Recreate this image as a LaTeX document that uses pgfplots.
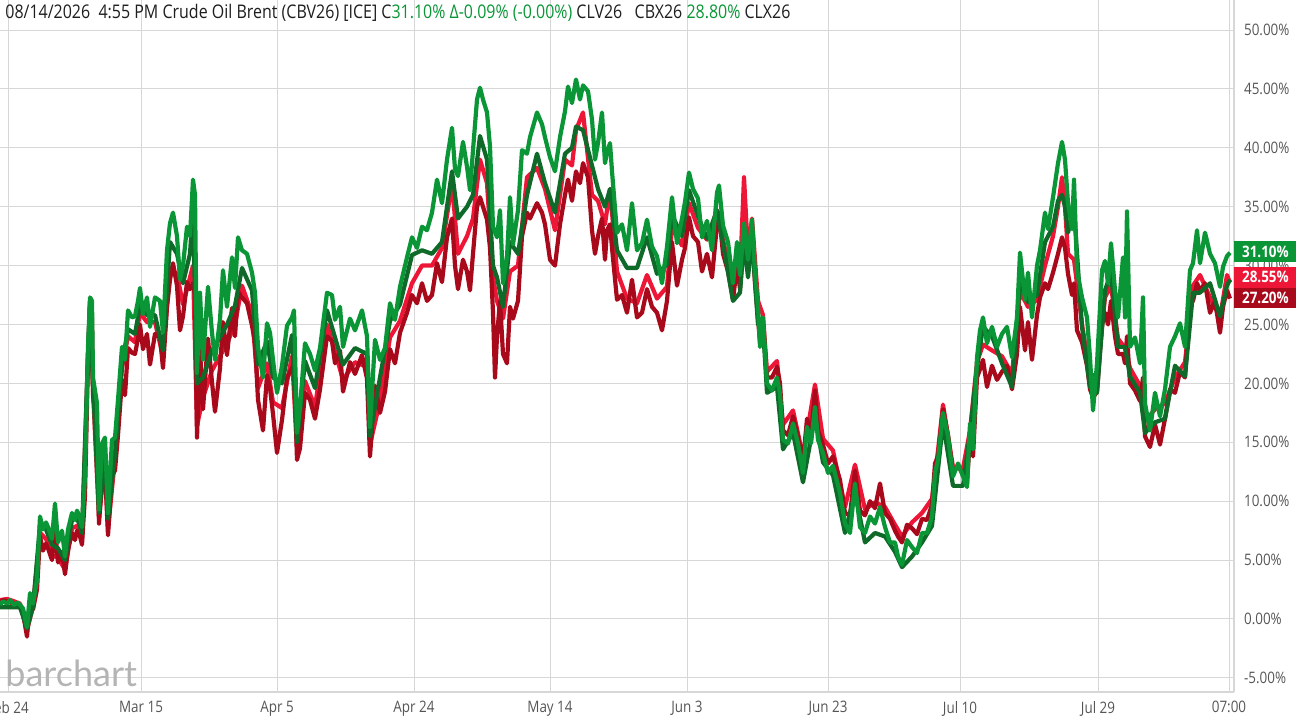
\documentclass[border=0pt]{standalone}
\usepackage{fontspec}
\usepackage{pgfplots}
\pgfplotsset{compat=1.18}
\newfontfamily\cond[FakeStretch=0.85]{Open Sans}
\newfontfamily\wmfont{Lato}
\definecolor{cG}{RGB}{10,150,55}
\definecolor{cDG}{RGB}{15,105,40}
\definecolor{cC}{RGB}{238,22,55}
\definecolor{cR}{RGB}{168,10,28}
\definecolor{gridc}{RGB}{215,215,215}
\definecolor{labc}{RGB}{85,85,85}
\definecolor{ttl}{RGB}{30,30,30}
\definecolor{wm}{RGB}{180,180,180}
\begin{document}
\begin{tikzpicture}
\begin{axis}[
  at={(0,0)}, anchor=south west,
  scale only axis, width=617pt, height=346pt,
  xmin=0, xmax=1234, ymin=-6.2, ymax=52.55,
  axis x line*=bottom, axis y line*=right,
  axis line style={draw=gridc, line width=0.6pt, -},
  xtick={8,141,277,414,550,687,828,960,1098,1229},
  xticklabels={Feb 24,Mar 15,Apr 5,Apr 24,May 14,Jun 3,Jun 23,Jul 10,Jul 29,07:00},
  ytick={-5,0,5,10,15,20,25,30,35,40,45,50},
  yticklabels={-5.00\%,0.00\%,5.00\%,10.00\%,15.00\%,20.00\%,25.00\%,30.00\%,35.00\%,40.00\%,45.00\%,50.00\%},
  yticklabel style={anchor=west, xshift=1.5pt},
  xticklabel style={anchor=north, yshift=-1pt},
  major tick length=0pt,
  grid=major, major grid style={draw=gridc, line width=0.5pt},
  tick label style={font=\cond\fontsize{7.9}{9}\selectfont, text=labc},
  /pgf/number format/assume math mode=true,
  clip mode=individual,
  every axis plot/.append style={line width=2.1pt, line join=round, no markers},
]
\node[anchor=base west, font=\wmfont\fontsize{18}{20}\selectfont, text=wm, inner sep=0pt] at ([xshift=2.5pt,yshift=2.5pt]rel axis cs:0,0) {barchart};

% CLV26 (crimson)
\addplot[draw=cC] coordinates {
(0,1.6)(7,1.7)(14,1.5)(20,1.3)(27,-1.0)(33,1.1)(40,7.3)(46,6.8)(52,5.4)(58,5.2)(65,4.2)(72,7.7)(77,7.9)(82,6.7)(88,22.4)(90,27.0)(93,19.4)(99,8.5)(105,13.6)(108,7.6)(115,13.6)(122,21.3)(128,24.0)(135,23.5)(140,26.0)(147,25.2)(155,25.2)(163,22.3)(170,29.8)(177,29.3)(183,26.7)(190,29.0)(193,30.0)(197,16.4)(203,18.8)(212,21.1)(220,22.3)(227,23.4)(235,25.0)(242,28.3)(252,25.9)(258,19.6)(267,21.7)(273,18.4)(282,17.9)(292,22.3)(297,14.5)(305,20.2)(315,18.0)(327,25.0)(335,22.7)(343,20.3)(355,21.8)(367,21.4)(370,14.8)(380,18.5)(390,23.9)(400,25.3)(412,28.5)(422,30.0)(432,30.0)(442,31.5)(452,37.0)(458,31.0)(467,32.5)(473,34.0)(480,39.0)(487,37.0)(493,29.0)(497,27.0)(503,25.5)(510,29.5)(518,30.0)(527,37.5)(537,38.3)(545,36.5)(555,33.0)(565,39.0)(572,38.5)(576,41.5)(583,43.0)(592,36.0)(598,35.5)(605,33.5)(610,36.5)(617,29.5)(627,27.2)(637,26.8)(647,29.2)(657,27.2)(667,28.2)(672,33.2)(682,31.7)(689,35.3)(698,33.2)(707,32.2)(717,34.7)(723,32.2)(733,28.3)(740,29.2)(744,37.5)(748,31.0)(752,34.0)(758,27.0)(763,25.8)(767,21.0)(777,21.9)(783,16.5)(793,17.7)(803,13.8)(815,19.9)(823,15.3)(833,14.3)(845,9.5)(855,13.1)(865,9.3)(875,9.9)(885,9.5)(895,8.0)(902,7.0)(912,8.2)(922,9.0)(932,10.2)(938,14.3)(943,18.2)(953,12.9)(963,12.8)(970,16.0)(977,21.8)(983,23.3)(992,22.8)(1002,22.3)(1012,20.8)(1020,27.8)(1028,26.5)(1037,27.1)(1045,30.0)(1053,32.5)(1058,35.0)(1062,37.5)(1065,35.0)(1068,31.0)(1074,30.5)(1082,25.0)(1090,20.8)(1097,20.6)(1105,27.3)(1111,28.3)(1118,23.8)(1125,23.0)(1130,21.3)(1140,19.8)(1145,16.8)(1155,17.8)(1165,18.3)(1175,20.5)(1185,21.8)(1193,28.3)(1200,29.2)(1210,27.3)(1220,25.6)(1227,29.2)(1230,28.55)
};

% CLX26 (dark red)
\addplot[draw=cR] coordinates {
(0,1.4)(3,1.6)(7,1.5)(10,1.4)(14,1.3)(17,1.2)(20,1.0)(23,0.5)(27,-1.5)(30,1.5)(33,0.8)(37,2.5)
(40,7.0)(43,5.8)(46,6.4)(48,6.0)(52,5.0)(55,7.8)(58,4.8)(62,5.7)(65,3.8)(68,5.9)(72,7.3)(75,6.7)(77,7.5)(80,7.0)(82,6.3)(85,10.5)
(88,22.0)(90,26.8)(92,25.5)(93,19.0)(97,16.0)(99,8.1)
(102,11.9)(105,12.6)(108,7.1)(112,12.2)(115,12.6)(118,15.6)(122,20.3)(125,19.0)(128,23.0)(132,22.6)(135,22.5)(138,23.8)(140,25.0)(143,22.9)(147,24.2)(150,21.6)(155,24.2)(160,23.9)(163,21.3)
(167,26.5)(170,28.8)(173,30.2)(177,28.3)(180,24.5)(183,25.7)(187,28.6)(190,28.0)(193,28.5)(195,27.5)(197,15.4)(200,22.9)
(203,17.8)(208,23.8)(212,20.1)(215,17.6)(220,21.3)(223,25.2)(227,22.4)(232,26.4)(235,24.0)(238,27.8)(242,27.3)(247,26.8)(252,24.9)(255,23.5)(258,18.6)(263,16.0)(267,20.7)(270,19.6)(273,17.4)(277,14.1)(282,16.9)(287,20.5)(292,21.3)(294,21.7)(297,13.5)(300,14.5)
(305,19.2)(310,18.6)(315,17.0)(320,19.5)(327,24.0)(332,23.6)(335,21.7)(340,22.8)(343,19.3)(350,21.8)(355,20.8)(362,22.4)(367,20.4)(370,13.8)(375,19.8)(380,17.5)(385,19.3)(390,22.9)(395,21.7)(400,24.3)(407,26.0)(412,27.5)(417,26.8)(422,28.5)
(427,27.0)(432,27.5)(437,30.2)(442,28.6)(447,32.4)(452,34.0)(455,30.0)(458,28.0)(463,30.5)(467,29.5)(470,27.9)(473,31.0)(477,35.0)(480,35.8)(483,35.0)(487,33.9)(490,31.5)(493,26.0)(495,20.5)(497,24.0)(500,27.0)(503,22.5)(507,21.7)(510,26.5)(513,25.5)(518,27.0)
(522,32.5)(527,34.5)(530,34.0)(537,35.3)(542,34.5)(545,33.5)(550,30.5)(555,30.0)(560,33.5)(565,36.0)(568,37.3)(572,35.5)(576,38.0)(580,37.0)(583,38.7)(588,37.5)(592,33.0)(595,31.0)(598,32.5)(602,34.0)(605,30.5)(607,33.0)(610,33.5)(612,31.5)(617,27.1)
(622,27.5)(627,26.0)(632,28.8)(637,25.6)(642,26.0)(647,28.0)(652,26.5)(657,26.0)(662,24.5)(667,27.0)(672,32.0)(677,28.3)(682,30.5)(685,31.5)(689,34.1)(693,32.5)(698,32.0)
(702,29.5)(707,31.0)(712,29.0)(717,33.5)(719,34.5)(723,31.0)(728,29.5)(733,27.1)(737,30.0)(740,28.0)(744,32.5)(748,29.5)(752,32.5)(755,28.5)(758,25.5)(760,23.5)(763,25.0)
(767,20.5)(772,20.5)(777,21.4)(780,20.0)(783,16.0)(788,15.6)(793,17.2)(798,15.5)(803,13.3)(807,17.0)(811,15.6)(815,19.4)(818,16.0)(823,14.8)(828,13.2)
(833,13.8)(840,11.8)(845,9.0)(850,8.8)(855,12.6)(860,9.2)(865,8.8)(870,10.0)(875,9.4)(880,11.5)(885,9.0)(890,8.5)(895,7.5)(898,7.0)(902,6.5)(907,8.0)(912,7.7)(917,7.2)(922,8.5)(927,8.4)(932,9.7)(935,13.2)(938,13.8)(943,17.8)(948,15.6)
(953,12.4)(958,13.0)(963,12.3)(967,11.5)(970,15.5)(973,13.8)
(977,20.5)(980,21.2)(983,22.0)(987,19.7)(992,21.5)(997,20.3)(1002,21.0)(1007,21.5)(1012,19.5)(1017,22.5)(1020,26.5)(1025,22.8)(1028,25.2)(1032,22.0)(1037,25.8)(1040,27.3)
(1045,28.5)(1048,28.0)(1053,29.4)(1058,31.0)(1062,32.4)(1065,31.5)(1068,29.3)(1072,27.5)(1074,28.5)(1077,24.5)(1082,23.5)(1087,21.5)
(1090,19.5)(1093,18.8)(1097,19.3)(1102,25.0)(1105,26.0)(1108,25.0)(1111,27.0)(1115,24.0)(1118,22.5)(1123,22.5)(1125,21.7)(1127,24.0)(1130,20.0)
(1135,19.4)(1140,18.5)(1143,20.5)(1145,15.5)(1150,14.6)(1155,16.5)(1160,14.8)(1165,17.0)(1170,19.5)
(1175,19.2)(1180,21.0)(1185,20.5)(1190,26.8)(1193,27.0)(1197,28.5)(1200,27.9)(1205,28.5)(1210,26.0)(1215,27.0)(1220,24.3)(1223,26.5)(1227,27.9)(1230,27.2)
};

% CBX26 (dark green)
\addplot[draw=cDG] coordinates {
(0,1.0)(7,1.0)(14,1.0)(20,1.0)(27,-0.8)(33,1.0)(40,8.0)(46,7.6)(52,6.3)(58,6.0)(65,5.0)(72,8.4)(77,8.6)(82,7.3)(88,22.5)(90,26.5)(93,20.0)(99,9.0)(105,14.0)(108,8.5)(115,14.0)(122,21.6)(128,24.6)(135,24.2)(140,26.6)(147,25.8)(155,25.8)(163,22.8)(170,32.0)(177,31.0)(183,28.5)(190,31.0)(193,35.0)(197,20.0)(203,20.5)(212,22.8)(220,23.9)(227,25.0)(235,26.6)(242,29.8)(252,27.9)(258,21.6)(267,23.6)(273,20.5)(282,20.0)(292,24.1)(297,15.0)(305,21.9)(315,19.6)(327,26.2)(335,23.9)(343,21.6)(355,23.0)(367,22.5)(370,15.5)(380,20.5)(390,25.3)(400,26.7)(412,30.9)(422,31.3)(432,31.0)(442,32.0)(452,38.0)(458,34.0)(467,35.0)(473,36.0)(480,41.0)(487,39.0)(493,30.0)(497,29.0)(503,26.5)(510,32.0)(518,31.0)(527,36.0)(537,39.5)(545,37.0)(555,34.5)(565,39.5)(572,40.0)(576,41.8)(583,41.5)(592,38.5)(598,36.5)(605,35.0)(610,36.5)(617,31.3)(627,29.8)(637,29.8)(647,32.4)(657,29.3)(667,30.1)(672,34.3)(682,32.5)(689,36.4)(698,34.2)(707,32.3)(717,34.7)(723,31.9)(733,27.0)(740,27.7)(744,32.1)(748,29.0)(752,32.4)(758,25.0)(763,24.8)(767,19.2)(777,19.7)(783,14.4)(793,15.8)(803,11.6)(815,17.2)(823,13.3)(833,12.2)(845,7.3)(855,10.7)(865,6.5)(875,7.3)(885,7.0)(895,5.7)(902,4.4)(912,5.3)(922,6.5)(932,7.9)(938,12.7)(943,16.7)(953,11.3)(963,11.3)(970,15.8)(977,21.4)(983,24.8)(992,24.0)(1002,21.7)(1012,19.7)(1020,28.6)(1028,26.9)(1037,27.5)(1045,32.0)(1053,33.3)(1058,35.5)(1062,36.0)(1065,35.0)(1068,32.8)(1074,34.8)(1082,24.8)(1090,19.7)(1097,19.2)(1105,27.9)(1111,29.4)(1118,23.1)(1125,23.1)(1130,20.6)(1140,19.2)(1145,15.8)(1155,16.7)(1165,17.0)(1175,21.5)(1185,20.6)(1193,27.7)(1200,27.7)(1210,28.5)(1220,25.7)(1227,28.3)(1230,28.8)
};

% CBV26 (green)
\addplot[draw=cG] coordinates {
(0,1.2)(3,1.5)(7,1.3)(10,1.6)(14,1.2)(17,1.4)(20,1.2)(23,0.9)(27,-0.7)(30,2.2)(33,1.3)(37,3.3)(40,8.7)(43,7.6)(46,8.2)(48,7.8)(52,6.8)(55,9.8)(58,6.5)(62,7.5)(65,5.3)(68,7.6)(72,9.0)(75,8.4)(77,9.2)(80,8.6)(82,7.8)(85,12.1)(88,23.1)(90,27.3)(92,27.0)(93,20.5)(97,18.3)(99,9.3)
(102,14.9)(105,15.4)(108,9.0)(112,15.2)(115,15.4)(118,18.6)(122,23.1)(125,22.0)(128,26.2)(132,25.6)(135,25.7)(138,27.0)(140,28.1)(143,25.9)(147,27.3)(150,24.8)(155,27.3)(160,27.0)(163,24.3)(167,31.3)(170,33.6)(173,34.5)(177,32.5)(180,28.8)(183,30.0)(187,33.3)(190,32.5)(193,37.3)(195,36.0)(197,20.9)(200,27.7)
(203,22.0)(208,28.2)(212,24.3)(215,22.0)(220,25.4)(223,29.6)(227,26.5)(232,30.7)(235,28.1)(238,32.4)(242,31.3)(247,31.0)(252,29.4)(255,27.7)(258,23.1)(263,20.5)(267,25.1)(270,24.3)(273,22.0)(277,19.2)(282,21.5)(287,24.9)(292,25.6)(294,26.2)(297,15.8)(300,18.0)
(305,23.4)(310,22.5)(315,21.1)(320,23.0)(327,27.7)(332,27.5)(335,25.4)(340,26.5)(343,23.1)(350,25.5)(355,24.5)(362,26.2)(367,24.0)(370,16.3)(375,23.7)(380,22.0)(385,23.0)(390,26.8)(395,25.4)(400,28.2)(407,30.7)(412,32.4)(417,31.5)(422,33.3)
(427,33.0)(432,34.5)(437,37.3)(442,35.3)(447,39.0)(452,41.7)(455,38.2)(458,37.6)(463,40.5)(467,38.4)(470,36.4)(473,39.8)(477,44.1)(480,45.1)(483,44.1)(487,43.0)(490,40.1)(493,33.3)(497,32.4)(500,34.7)(503,28.5)(507,30.7)(510,35.8)(513,31.8)(518,34.7)
(522,39.8)(527,39.5)(530,40.9)(537,43.0)(542,42.0)(545,40.9)(550,39.2)(555,38.0)(560,40.9)(565,43.1)(568,45.2)(572,43.8)(576,45.8)(580,44.1)(583,45.3)(588,44.8)(592,42.4)(595,39.0)(598,40.4)(602,43.0)(605,38.7)(607,39.6)(610,40.4)(612,38.0)(617,32.8)
(622,33.5)(627,31.3)(632,35.3)(637,31.3)(642,31.9)(647,33.9)(652,31.6)(657,30.8)(662,28.5)(667,31.6)(672,35.8)(677,31.9)(682,34.0)(685,35.4)(689,37.9)(693,36.5)(698,35.7)
(702,32.4)(707,33.8)(712,31.3)(717,36.2)(719,36.8)(723,33.4)(728,32.0)(733,28.5)(737,32.0)(740,29.2)(744,33.6)(748,30.5)(752,33.9)(755,29.4)(758,26.5)(760,23.1)(763,25.6)
(767,20.0)(772,19.4)(777,20.5)(780,19.1)(783,15.2)(788,14.9)(793,16.6)(798,14.9)(803,12.4)(807,16.3)(811,14.9)(815,18.0)(818,15.2)(823,14.1)(828,12.4)
(833,13.0)(840,10.7)(845,8.1)(850,7.3)(855,11.5)(860,7.8)(865,7.3)(870,8.7)(875,8.1)(880,9.5)(885,7.8)(890,6.5)(895,6.5)(898,5.3)(902,4.6)(907,6.7)(912,6.1)(917,5.6)(922,7.3)(927,7.3)(932,8.7)(935,12.4)(938,13.5)(943,17.5)(948,15.5)
(953,12.1)(958,13.2)(963,12.1)(967,11.2)(970,16.6)(973,14.4)
(977,22.2)(980,24.5)(983,25.6)(987,23.4)(992,24.8)(997,23.1)(1002,24.2)(1007,24.8)(1012,22.2)(1017,25.6)(1020,31.1)(1025,27.1)(1028,29.4)(1032,25.6)(1037,30.0)(1040,31.3)
(1045,34.5)(1048,33.1)(1053,35.8)(1058,38.7)(1062,40.5)(1065,39.0)(1068,35.3)(1072,33.1)(1074,37.3)(1077,29.6)(1082,27.3)(1087,25.6)
(1090,22.2)(1093,17.7)(1097,21.7)(1102,29.6)(1105,30.4)(1108,28.5)(1111,31.9)(1115,27.9)(1118,25.6)(1123,30.7)(1125,25.6)(1127,34.6)(1130,23.1)
(1135,23.9)(1140,21.7)(1143,27.3)(1145,18.3)(1150,16.0)(1155,19.2)(1160,17.2)(1165,19.5)(1170,23.1)
(1175,24.0)(1180,25.1)(1185,23.1)(1190,29.6)(1193,30.2)(1197,33.0)(1200,30.2)(1205,32.8)(1210,31.0)(1215,30.2)(1220,28.2)(1223,29.9)(1227,30.8)(1230,31.1)
};

\node[anchor=west, inner sep=0pt, font=\cond\fontsize{9.4}{11}\selectfont, text=ttl] at ([xshift=2.5pt,yshift=-6.3pt]rel axis cs:0,1)
  {08/14/2026\ \ 4:55 PM Crude Oil Brent (CBV26) [ICE] C\textcolor{cG}{31.10\%} \textcolor{cG}{Δ-0.09\% (-0.00\%)} CLV26\ \ \ CBX26 \textcolor{cG}{28.80\%} CLX26};

\coordinate (gb) at (axis cs:1234,31.2);
\coordinate (cb) at (axis cs:1234,29.0);
\coordinate (rb) at (axis cs:1234,27.25);
\end{axis}
\tikzset{pbox/.style={anchor=west, inner sep=0pt, minimum width=31pt, minimum height=10.2pt, text=white, font=\cond\bfseries\fontsize{7.9}{9}\selectfont}}
\node[pbox, fill=cC] at (cb) {28.55\%};
\node[pbox, fill=cR] at (rb) {27.20\%};
\node[pbox, fill=cG] at (gb) {31.10\%};
\pgfresetboundingbox
\path (0,-14.5pt) rectangle (648pt,346pt);
\end{tikzpicture}
\end{document}
